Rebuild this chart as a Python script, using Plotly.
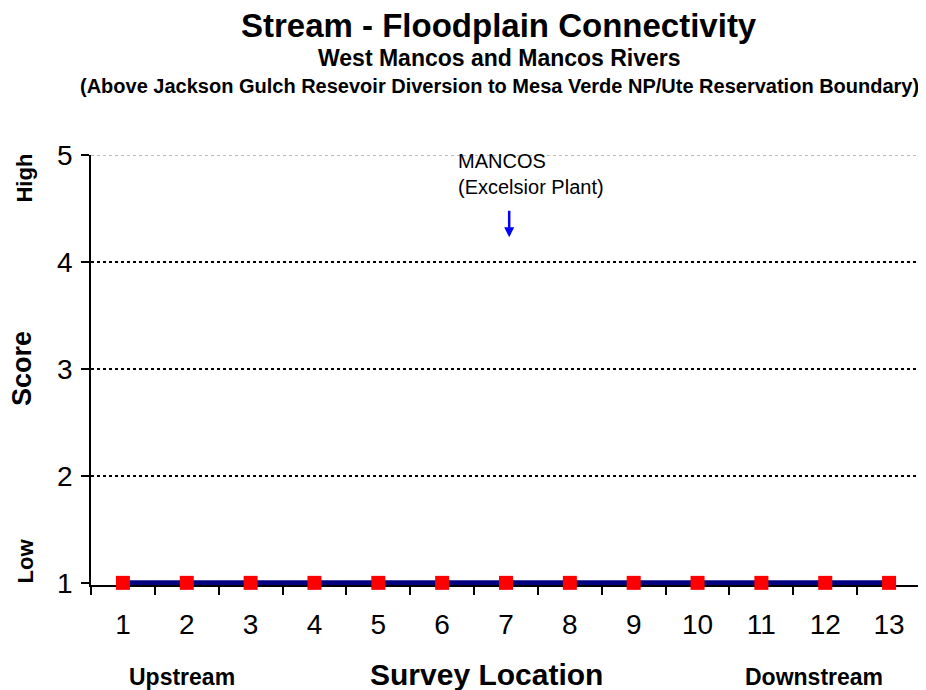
import plotly.graph_objects as go

locations = list(range(1, 14))
scores = [1, 1, 1, 1, 1, 1, 1, 1, 1, 1, 1, 1, 1]
y_ticks = [1, 2, 3, 4, 5]

FONT = "Liberation Sans, Arial, sans-serif"

fig = go.Figure()
fig.add_trace(go.Scatter(
    x=locations, y=scores, mode="lines+markers",
    line=dict(color="#000080", width=5),
    marker=dict(symbol="square", size=14, color="#ff0000", line=dict(width=0)),
    cliponaxis=False, showlegend=False,
))

# gridlines
for yv in [2, 3, 4]:
    fig.add_shape(type="line", xref="paper", yref="y", x0=0, x1=1, y0=yv, y1=yv,
                  line=dict(color="black", width=2, dash="dot"), layer="below")
fig.add_shape(type="line", xref="paper", yref="y", x0=0, x1=1, y0=5, y1=5,
              line=dict(color="#bbbbbb", width=2, dash="dot"), layer="below")

fig.update_xaxes(
    range=[0.5, 13.5], tickmode="array", tickvals=locations,
    ticktext=[str(v) for v in locations],
    showline=True, linecolor="black", linewidth=1.5,
    ticks="", showgrid=False, zeroline=False, automargin=False,
    ticklabelstandoff=14, layer="below traces",
    tickfont=dict(family=FONT, size=28, color="black"),
)
# minor ticks between categories
fig.update_xaxes(minor=dict(tickvals=[i + 0.5 for i in range(0, 14)], ticks="outside",
                            ticklen=8, tickcolor="black", tickwidth=1.5, showgrid=False))
fig.update_yaxes(
    range=[0.98, 5], tickmode="array", tickvals=y_ticks,
    showline=True, linecolor="black", linewidth=1.5,
    ticks="outside", ticklen=8, tickcolor="black", tickwidth=1.5,
    showgrid=False, zeroline=False, automargin=False,
    ticklabelstandoff=3, layer="below traces",
    tickfont=dict(family=FONT, size=28, color="black"),
)

ann = [
    dict(text="<b>Stream - Floodplain Connectivity</b>", xref="paper", yref="paper",
         x=0.5, xshift=-7, y=1, xanchor="center", yanchor="middle", yshift=130,
         font=dict(size=33), showarrow=False),
    dict(text="<b>West Mancos and Mancos Rivers</b>", xref="paper", yref="paper",
         x=0.5, xshift=-7, y=1, yshift=97, xanchor="center", yanchor="middle",
         font=dict(size=23), showarrow=False),
    dict(text="<b>(Above Jackson Gulch Resevoir Diversion to Mesa Verde NP/Ute Reservation Boundary)</b>",
         xref="paper", yref="paper", x=0.5, xshift=-7, y=1, yshift=69, xanchor="center", yanchor="middle",
         font=dict(size=20), showarrow=False),
    dict(text="<b>Score</b>", xref="paper", yref="y", x=0, xshift=-69, y=3,
         textangle=-90, font=dict(size=27), showarrow=False, xanchor="center", yanchor="middle"),
    dict(text="<b>High</b>", xref="paper", yref="y", x=0, xshift=-66, y=4.78,
         textangle=-90, font=dict(size=22), showarrow=False, xanchor="center", yanchor="middle"),
    dict(text="<b>Low</b>", xref="paper", yref="y", x=0, xshift=-66, y=1.2,
         textangle=-90, font=dict(size=22), showarrow=False, xanchor="center", yanchor="middle"),
    dict(text="<b>Survey Location</b>", xref="paper", yref="y", x=0.5, xshift=-20, y=1, yshift=-92,
         font=dict(size=30), showarrow=False, xanchor="center", yanchor="middle"),
    dict(text="<b>Upstream</b>", xref="x", yref="y", x=1.93, y=1, yshift=-94,
         font=dict(size=23), showarrow=False, xanchor="center", yanchor="middle"),
    dict(text="<b>Downstream</b>", xref="x", yref="y", x=11.82, y=1, yshift=-94,
         font=dict(size=23), showarrow=False, xanchor="center", yanchor="middle"),
    dict(text="MANCOS<br>(Excelsior Plant)", xref="x", yref="paper", x=6.22, y=1, yshift=7,
         xanchor="left", yanchor="top", align="left", font=dict(size=20), showarrow=False),
    dict(text="", xref="x", yref="y", x=7.05, y=4.23, ax=0, ay=-28, showarrow=True,
         arrowcolor="#0000ff", arrowwidth=2.5, arrowhead=2, arrowsize=0.8),
]

fig.update_layout(
    width=918, height=682,
    margin=dict(l=83, r=5, t=147, b=105, autoexpand=False),
    paper_bgcolor="white", plot_bgcolor="white",
    font=dict(family=FONT, color="black"),
    annotations=ann,
)

fig.write_html("out.html")
